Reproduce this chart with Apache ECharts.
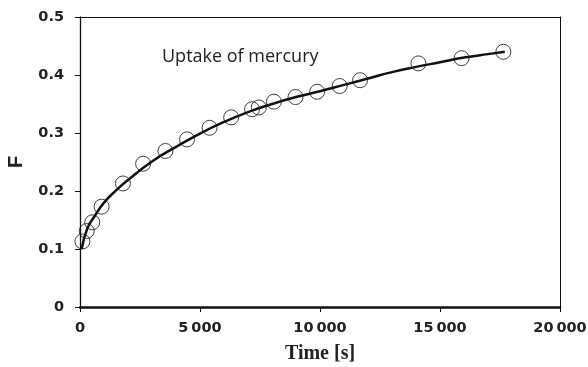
<!DOCTYPE html>
<html><head><meta charset="utf-8">
<script src="https://cdn.jsdelivr.net/npm/echarts@6/dist/echarts.min.js"></script>
<style>html,body{margin:0;padding:0;background:#fff}#c{width:588px;height:367px}</style>
</head><body><div id="c"></div>
<script>
// Measured points (time [s], F)
const pointTimes = [100, 280, 510, 900, 1790, 2630, 3560, 4460, 5400, 6300, 7170, 7450, 8080, 8980, 9880, 10820, 11670, 14100, 15900, 17640];
const pointF     = [0.113, 0.131, 0.146, 0.173, 0.213, 0.247, 0.269, 0.289, 0.309, 0.327, 0.341, 0.344, 0.354, 0.362, 0.371, 0.381, 0.391, 0.420, 0.429, 0.440];
// Fitted curve
const curveTimes = [70, 300, 600, 1000, 1500, 2000, 3000, 4000, 5000, 6000, 7000, 8000, 9000, 10000, 11000, 12000, 13000, 14000, 15000, 16000, 17000, 17700];
const curveF     = [0.100, 0.135, 0.156, 0.180, 0.201, 0.219, 0.251, 0.276, 0.299, 0.319, 0.336, 0.350, 0.362, 0.372, 0.383, 0.394, 0.405, 0.414, 0.422, 0.430, 0.436, 0.440];
const yTicks = [0, 0.1, 0.2, 0.3, 0.4, 0.5];
const xTickLabels = ['0', '5\u2009000', '10\u2009000', '15\u2009000', '20\u2009000'];
const chartTitle = 'Uptake of mercury';

const frameAxisX = {type: 'value', min: 0, max: 20000, position: 'top', gridIndex: 0,
  axisLine: {show: true, onZero: false, lineStyle: {color: '#111', width: 1}},
  axisTick: {show: false}, axisLabel: {show: false}, splitLine: {show: false}};
const frameAxisY = {type: 'value', min: 0, max: 0.5, position: 'right', gridIndex: 0,
  axisLine: {show: true, onZero: false, lineStyle: {color: '#111', width: 1}},
  axisTick: {show: false}, axisLabel: {show: false}, splitLine: {show: false}};

const chart = echarts.init(document.getElementById('c'));
chart.setOption({
  animation: false,
  backgroundColor: '#fff',
  title: {
    text: chartTitle, left: 157, top: 43,
    textStyle: {fontFamily: 'Open Sans', fontWeight: 'normal', fontSize: 18, color: '#222'}
  },
  grid: {left: 80, right: 28, top: 17, bottom: 60, containLabel: false, outerBoundsMode: 'none'},
  xAxis: [{
    type: 'value', min: 0, max: 20000, interval: 5000, position: 'bottom',
    name: 'Time [s]', nameLocation: 'middle', nameGap: 37,
    nameTextStyle: {fontFamily: 'Liberation Serif', fontWeight: 'bold', fontSize: 20, color: '#222'},
    axisLine: {show: true, onZero: false, lineStyle: {color: '#111', width: 2.5}},
    axisTick: {show: true, length: 5, lineStyle: {color: '#111', width: 1}},
    splitLine: {show: false},
    axisLabel: {
      margin: 14, fontFamily: 'DejaVu Sans', fontWeight: 'bold', fontSize: 14.5, color: '#222',
      formatter: v => xTickLabels[Math.round(v / 5000)]
    }
  }, frameAxisX],
  yAxis: [{
    type: 'value', min: 0, max: 0.5, interval: 0.1, position: 'left',
    name: 'F', nameLocation: 'middle', nameGap: 54,
    nameTextStyle: {fontFamily: 'Liberation Sans', fontWeight: 'bold', fontSize: 20, color: '#222'},
    axisLine: {show: true, onZero: false, lineStyle: {color: '#111', width: 1.3}},
    axisTick: {show: true, length: 5, lineStyle: {color: '#111', width: 1}},
    splitLine: {show: false},
    axisLabel: {
      margin: 16, fontFamily: 'DejaVu Sans', fontWeight: 'bold', fontSize: 14.5, color: '#222',
      formatter: v => { const t = yTicks.find(y => Math.abs(y - v) < 1e-9); return t === 0 ? '0' : String(t); }
    }
  }, frameAxisY],
  series: [
    {
      type: 'line', smooth: true, symbol: 'none', xAxisIndex: 0, yAxisIndex: 0,
      data: curveTimes.map((t, i) => [t, curveF[i]]),
      lineStyle: {color: '#111', width: 2.5}, z: 2
    },
    {
      type: 'scatter', symbol: 'circle', symbolSize: 15, xAxisIndex: 0, yAxisIndex: 0,
      data: pointTimes.map((t, i) => [t, pointF[i]]),
      itemStyle: {color: 'rgba(0,0,0,0)', borderColor: '#111', borderWidth: 1}, z: 3
    }
  ]
});
</script></body></html>
